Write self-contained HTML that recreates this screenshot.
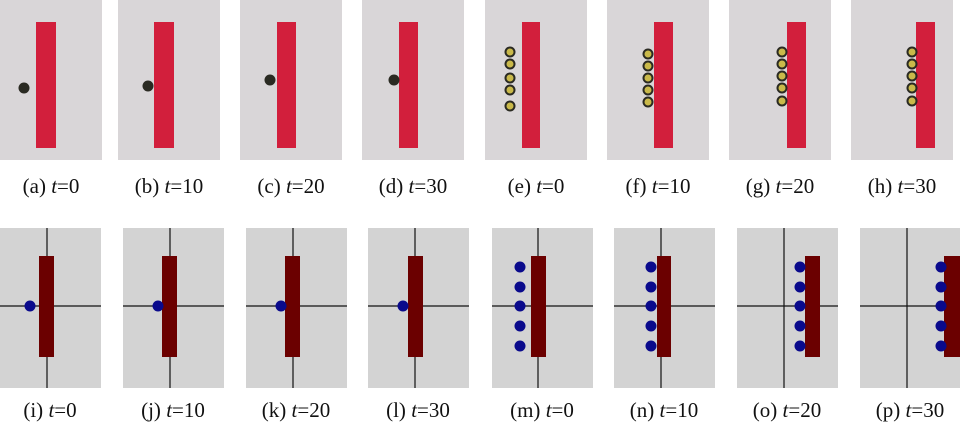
<!DOCTYPE html>
<html><head><meta charset="utf-8"><style>
body{margin:0;background:#fff;width:960px;height:424px;overflow:hidden}
svg{display:block}
text{font-family:"Liberation Serif",serif;font-size:21px;fill:#111}
</style></head><body>
<svg id="fig" width="960" height="424"></svg>
<script>
const NS='http://www.w3.org/2000/svg';
const svg=document.getElementById('fig');
const topPanels=[
 {l:'a',t:0,x:0,r0:36,r1:56,bx:24,by:[88]},
 {l:'b',t:10,x:118,r0:154,r1:174,bx:148,by:[86]},
 {l:'c',t:20,x:240,r0:277,r1:296,bx:270,by:[80]},
 {l:'d',t:30,x:362,r0:399,r1:418,bx:394,by:[80]},
 {l:'e',t:0,x:485,r0:522,r1:540,bx:510,by:[52,64,78,90,106]},
 {l:'f',t:10,x:607,r0:654,r1:673,bx:648,by:[54,66,78,90,102]},
 {l:'g',t:20,x:729,r0:787,r1:806,bx:782,by:[52,64,76,88,101]},
 {l:'h',t:30,x:851,r0:916,r1:935,bx:912,by:[52,64,76,88,101]}];
const botPanels=[
 {l:'i',t:0,x:0,cx:47,r0:39,r1:54,dx:30,dy:[306]},
 {l:'j',t:10,x:123,cx:170,r0:162,r1:177,dx:158,dy:[306]},
 {l:'k',t:20,x:246,cx:293,r0:285,r1:300,dx:281,dy:[306]},
 {l:'l',t:30,x:368,cx:415,r0:408,r1:423,dx:403,dy:[306]},
 {l:'m',t:0,x:492,cx:538,r0:531,r1:546,dx:520,dy:[267,287,306,326,346]},
 {l:'n',t:10,x:614,cx:661,r0:657,r1:671,dx:651,dy:[267,287,306,326,346]},
 {l:'o',t:20,x:737,cx:784,r0:805,r1:820,dx:800,dy:[267,287,306,326,346]},
 {l:'p',t:30,x:860,cx:907,r0:944,r1:960,dx:941,dy:[267,287,306,326,346]}];
function el(tag,a,p){const e=document.createElementNS(NS,tag);for(const k in a)e.setAttribute(k,a[k]);(p||svg).appendChild(e);return e;}
function caption(p,cx,y,g){
 const t=el('text',{x:cx,y:y,'text-anchor':'middle'},g);
 
 
 t.innerHTML='('+p.l+') <tspan font-style="italic">t</tspan>='+p.t;
}
topPanels.forEach(p=>{
 const g=el('g',{});
 
 
 el('rect',{x:p.x,y:0,width:102,height:160,fill:'#d9d6d8'},g);
 el('rect',{x:p.r0,y:22,width:p.r1-p.r0,height:126,fill:'#d21f3c'},g);
 p.by.forEach(y=>{el('circle',{cx:p.bx,cy:y,r:5.5,fill:'#2a2a22'},g);
  if(p.by.length>1)el('circle',{cx:p.bx,cy:y,r:3.5,fill:'#c9b94a'},g);});
 caption(p,p.x+51,193,g);
});
botPanels.forEach(p=>{
 const g=el('g',{});
 
 
 el('rect',{x:p.x,y:228,width:Math.min(101,960-p.x),height:160,fill:'#d3d3d3'},g);
 el('line',{x1:p.cx,y1:228,x2:p.cx,y2:388,stroke:'#111','stroke-width':1.2},g);
 el('line',{x1:p.x,y1:306,x2:p.x+101,y2:306,stroke:'#111','stroke-width':1.2},g);
 el('rect',{x:p.r0,y:256,width:p.r1-p.r0,height:101,fill:'#6b0000'},g);
 p.dy.forEach(y=>el('circle',{cx:p.dx,cy:y,r:5.5,fill:'#0a0a8c'},g));
 caption(p,p.x+50,417,g);
});
</script>
</body></html>
